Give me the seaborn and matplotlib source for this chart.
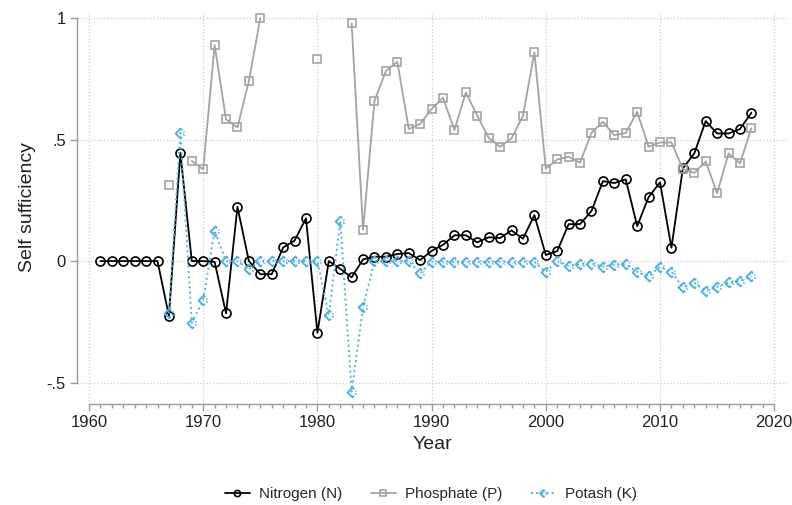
import numpy as np
import pandas as pd
import seaborn as sns
import matplotlib.pyplot as plt
from matplotlib.path import Path
from matplotlib.lines import Line2D
from matplotlib.ticker import FixedLocator

# data
years = list(range(1961, 2019))
nan = np.nan
nitrogen = [0, 0, 0, 0, 0, 0,
            -0.226, 0.446, 0, 0, -0.003, -0.215, 0.223, 0, -0.054, -0.054,
            0.056, 0.084, 0.176, -0.295, 0.0, -0.032, -0.067, 0.007, 0.018, 0.018,
            0.029, 0.033, 0.004, 0.042, 0.067, 0.106, 0.106, 0.077, 0.098, 0.095,
            0.126, 0.092, 0.189, 0.025, 0.041, 0.152, 0.152, 0.206, 0.329, 0.321,
            0.336, 0.144, 0.263, 0.324, 0.055, 0.381, 0.443, 0.576, 0.525, 0.525,
            0.543, 0.610]
phosphate = [nan, nan, nan, nan, nan, nan,
             0.313, nan, 0.412, 0.377, 0.889, 0.583, 0.55, 0.741, 1.0, nan,
             nan, nan, nan, 0.833, nan, nan, 0.978, 0.128, 0.66, 0.782,
             0.82, 0.543, 0.564, 0.626, 0.672, 0.539, 0.694, 0.598, 0.507, 0.470,
             0.505, 0.598, 0.859, 0.380, 0.418, 0.429, 0.405, 0.528, 0.573, 0.518,
             0.527, 0.614, 0.470, 0.488, 0.488, 0.379, 0.363, 0.41, 0.279, 0.443,
             0.402, 0.546]
potash = [nan, nan, nan, nan, nan, nan,
          -0.215, 0.528, -0.254, -0.16, 0.125, 0.0, 0.0, -0.034, 0, 0,
          0, 0, 0, 0, -0.222, 0.166, -0.538, -0.188, 0, 0,
          0, 0, -0.051, -0.003, -0.003, -0.003, -0.003, -0.003, -0.003, -0.003,
          -0.003, -0.003, -0.003, -0.044, 0, -0.019, -0.012, -0.01, -0.023, -0.015,
          -0.014, -0.044, -0.062, -0.023, -0.044, -0.108, -0.089, -0.123, -0.106, -0.088,
          -0.082, -0.062]
labels = ['Nitrogen (N)', 'Phosphate (P)', 'Potash (K)']

sns.set_theme(style='white')
plt.rcParams['font.family'] = ['Liberation Sans', 'DejaVu Sans']

# broken diamond to mimic the dotted outline of the potash markers
kv = [(0.35, 0.65), (0, 1), (-1, 0), (0, -1), (0.3, -0.7),
      (0.6, -0.4), (0.8, -0.2), (0.75, 0.25), (0.6, 0.4)]
kc = [Path.MOVETO, Path.LINETO, Path.LINETO, Path.LINETO, Path.LINETO,
      Path.MOVETO, Path.LINETO, Path.MOVETO, Path.LINETO]
kmark = Path(kv, kc)

blue = '#4fb0e6'
grey = '#a3a3a3'
styles = [
    dict(color='black', marker='o', linestyle='-', ms=6.5, mew=1.2, lw=1.3),
    dict(color=grey, marker='s', linestyle='-', ms=6, mew=1.2, lw=1.3),
    dict(color=blue, marker=kmark, linestyle=':', ms=7, mew=1.4, lw=1.4),
]

fig = plt.figure(figsize=(7.92, 5.05), dpi=100)
ax = fig.add_axes([77/792, 101/505, 710/792, 394/505])

for vals, st, lab in zip([nitrogen, phosphate, potash], styles, labels):
    df = pd.DataFrame({'Year': years, 'val': vals})
    df['seg'] = df['val'].isna().cumsum()
    df = df.dropna()
    sns.lineplot(data=df, x='Year', y='val', units='seg', estimator=None,
                 color=st['color'], marker=st['marker'], linestyle=st['linestyle'],
                 markersize=st['ms'], markeredgewidth=st['mew'], linewidth=st['lw'],
                 markerfacecolor='none', markeredgecolor=st['color'], ax=ax,
                 legend=False)

ax.set_xlim(1958.95, 2021.12)
ax.set_ylim(-0.588, 1.033)
ax.set_xticks(range(1960, 2021, 10))
ax.xaxis.set_minor_locator(FixedLocator([y for y in range(1960, 2021) if y % 10]))
ax.set_yticks([-0.5, 0, 0.5, 1])
ax.set_yticklabels(['-.5', '0', '.5', '1'])
ax.grid(True, which='major', linestyle=':', color='#cccccc', linewidth=0.9)
ax.set_axisbelow(True)

for s in ['top', 'right']:
    ax.spines[s].set_visible(False)
ax.spines['left'].set_bounds(-0.5, 1)
ax.spines['bottom'].set_bounds(1960, 2020)
for s in ['left', 'bottom']:
    ax.spines[s].set_color('#9a9a9a')
    ax.spines[s].set_linewidth(1.0)
ax.tick_params(axis='both', which='major', direction='out', length=5, width=1,
               color='#9a9a9a', labelsize=12, labelcolor='#222222', pad=3,
               bottom=True, left=True)
ax.tick_params(axis='x', which='minor', direction='out', length=3, width=1,
               color='#9a9a9a', bottom=True)

ax.set_xlabel('Year', fontsize=14, color='#222222', labelpad=4)
ax.set_ylabel('Self sufficiency', fontsize=14, color='#222222', labelpad=8)

handles = [Line2D([], [], color=st['color'], marker=st['marker'],
                  linestyle=st['linestyle'], markersize=st['ms'] - 2,
                  markeredgewidth=st['mew'], linewidth=st['lw'],
                  markerfacecolor='none') for st in styles]
fig.legend(handles, labels, loc='lower center', bbox_to_anchor=(431/792, -0.02),
           ncol=3, frameon=False, fontsize=11, handlelength=1.6,
           columnspacing=1.9, handletextpad=0.6)

fig.savefig('out.png', dpi=100)
